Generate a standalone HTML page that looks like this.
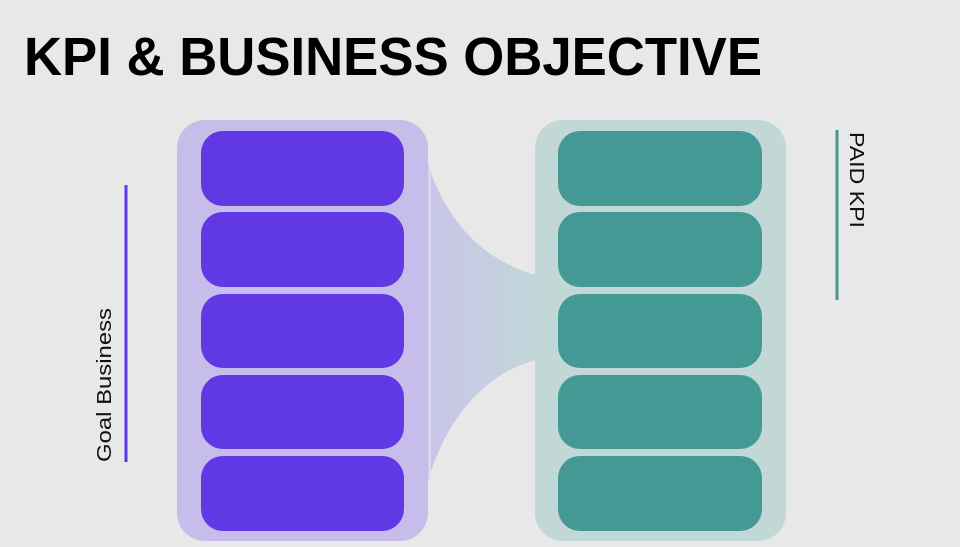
<!DOCTYPE html>
<html><head><meta charset="utf-8"><style>
html,body{margin:0;padding:0;background:#e8e8e8;width:960px;height:547px;overflow:hidden}
</style></head><body>
<svg width="960" height="547" viewBox="0 0 960 547" xmlns="http://www.w3.org/2000/svg">
<defs><linearGradient id="g" x1="0" x2="1" y1="0" y2="0"><stop offset="0" stop-color="#cac5e8"/><stop offset="1" stop-color="#c1d6da"/></linearGradient></defs>
<rect width="960" height="547" fill="#e8e8e8"/>
<text x="24" y="75" font-family="Liberation Sans, sans-serif" font-weight="bold" font-size="54" textLength="738" lengthAdjust="spacingAndGlyphs" fill="#000">KPI &amp; BUSINESS OBJECTIVE</text>
<path d="M428 165 C450 230 490 262 536 275 L536 360 C490 372 450 410 428 480 Z" fill="url(#g)"/>
<rect x="177" y="120" width="251" height="421" rx="28" fill="#c7bdea"/>
<line x1="429.5" y1="165" x2="429.5" y2="480" stroke="#e4e2f0" stroke-width="1.5"/>
<rect x="535" y="120" width="251" height="421" rx="28" fill="#c2d8d7"/>
<g fill="#6139e4">
<rect x="201" y="131" width="203" height="75" rx="22"/>
<rect x="201" y="212" width="203" height="75" rx="22"/>
<rect x="201" y="294" width="203" height="74" rx="22"/>
<rect x="201" y="375" width="203" height="74" rx="22"/>
<rect x="201" y="456" width="203" height="75" rx="22"/>
</g>
<g fill="#449995">
<rect x="558" y="131" width="204" height="75" rx="22"/>
<rect x="558" y="212" width="204" height="75" rx="22"/>
<rect x="558" y="294" width="204" height="74" rx="22"/>
<rect x="558" y="375" width="204" height="74" rx="22"/>
<rect x="558" y="456" width="204" height="75" rx="22"/>
</g>
<line x1="126" y1="185" x2="126" y2="462" stroke="#6139e4" stroke-width="3"/>
<text transform="translate(111,462) rotate(-90)" font-family="Liberation Sans, sans-serif" font-size="20" textLength="154" lengthAdjust="spacingAndGlyphs" fill="#111">Goal Business</text>
<line x1="837" y1="130" x2="837" y2="300" stroke="#449995" stroke-width="3"/>
<text transform="translate(850,132) rotate(90)" font-family="Liberation Sans, sans-serif" font-size="20" textLength="96" lengthAdjust="spacingAndGlyphs" fill="#111">PAID KPI</text>
</svg>
</body></html>
